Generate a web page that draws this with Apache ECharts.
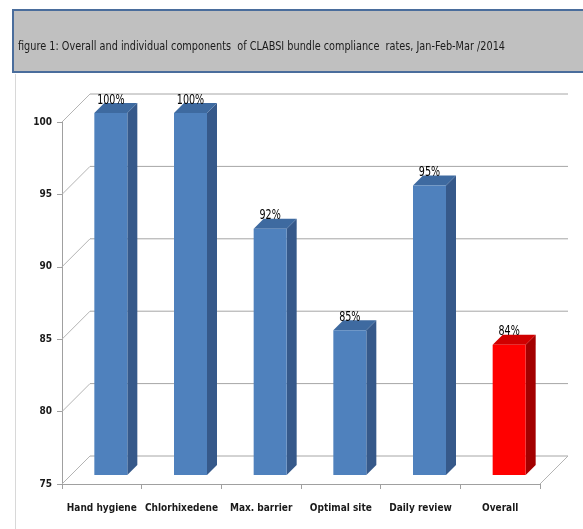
<!DOCTYPE html>
<html>
<head>
<meta charset="utf-8">
<script src="https://cdn.jsdelivr.net/npm/echarts@6/dist/echarts.min.js"></script>
<style>
  html, body { margin: 0; padding: 0; background: #fff; }
  #main { width: 583px; height: 529px; }
</style>
</head>
<body>
<div id="main"></div>
<script>
// data
const categories = ['Hand hygiene', 'Chlorhixedene', 'Max. barrier', 'Optimal site', 'Daily review', 'Overall']
const rates = [100, 100, 92, 85, 95, 84]
const yTicks = [75, 80, 85, 90, 95, 100]
const titleText = 'figure 1: Overall and individual components  of CLABSI bundle compliance  rates, Jan-Feb-Mar /2014'

const FONT = "'Liberation Sans Narrow', 'DejaVu Sans Condensed', 'Liberation Sans', sans-serif"
const DEPTH = 28      // depth of the 3d floor / back wall
const BAR_SHIFT = 9   // bar front plane offset into the depth
const BAR_DEPTH = 10
const BAR_W = 33

const faceColors = (name) => name === 'Overall'
  ? { front: '#ff0000', top: '#d00000', side: '#a30000' }
  : { front: '#4f81bd', top: '#3e6aa0', side: '#36598a' }

const chart = echarts.init(document.getElementById('main'))

let option = {
  backgroundColor: '#fff',
  animation: false,
  grid: { left: 62, right: 43, top: 122, bottom: 45 },
  graphic: [
    {
      type: 'rect',
      shape: { x: 13, y: 10, width: 590, height: 62 },
      style: { fill: '#c0c0c0', stroke: '#4a6d9c', lineWidth: 2 }
    },
    {
      type: 'text',
      x: 18, y: 47,
      scaleX: 0.83,
      style: { text: titleText, font: '13px ' + FONT, fill: '#1a1a1a', textVerticalAlign: 'middle' }
    },
    {
      type: 'line',
      shape: { x1: 15.5, y1: 74, x2: 15.5, y2: 529 },
      style: { stroke: '#d8d8d8', lineWidth: 1 }
    }
  ],
  xAxis: {
    type: 'category',
    data: categories,
    axisLine: { lineStyle: { color: '#a0a0a0' } },
    axisTick: { show: true, length: 5, lineStyle: { color: '#a0a0a0' } },
    axisLabel: { interval: 0, color: '#1a1a1a', fontWeight: 'bold', fontSize: 10, fontFamily: FONT, margin: 19 },
    splitLine: { show: false }
  },
  yAxis: {
    type: 'value',
    min: 75,
    max: 100,
    interval: 5,
    axisLine: { show: true, lineStyle: { color: '#a0a0a0' } },
    axisTick: { show: true, length: 5, lineStyle: { color: '#a0a0a0' } },
    axisLabel: { color: '#1a1a1a', fontWeight: 'bold', fontSize: 10, fontFamily: FONT, margin: 10 },
    splitLine: { show: false }
  },
  series: [
    {
      // floor and back wall, built from the y ticks
      type: 'custom',
      z: 1,
      silent: true,
      data: yTicks.map(v => [0, v]),
      encode: { x: 0, y: 1 },
      renderItem: (params, api) => {
        const cs = params.coordSys
        const y = api.coord([0, api.value(1)])[1]
        const children = [
          {
            type: 'polyline',
            shape: { points: [[cs.x, y], [cs.x + DEPTH, y - DEPTH]] },
            style: { stroke: '#b4b4b4', lineWidth: 1, fill: null }
          },
          {
            type: 'line',
            shape: { x1: cs.x + DEPTH, y1: y - DEPTH, x2: cs.x + cs.width + DEPTH, y2: y - DEPTH },
            style: { stroke: '#a6a6a6', lineWidth: 1 }
          }
        ]
        if (api.value(1) === yTicks[0]) {
          children.push({
            type: 'line',
            shape: { x1: cs.x + cs.width, y1: y, x2: cs.x + cs.width + DEPTH, y2: y - DEPTH },
            style: { stroke: '#b4b4b4', lineWidth: 1 }
          })
        }
        return { type: 'group', children }
      }
    },
    {
      type: 'custom',
      z: 3,
      data: categories.map((c, i) => [i, rates[i]]),
      encode: { x: 0, y: 1 },
      renderItem: (params, api) => {
        const i = api.value(0)
        const v = api.value(1)
        const p = api.coord([i, v])
        const b = api.coord([i, yTicks[0]])
        const col = faceColors(categories[i])
        const xl = p[0] + BAR_SHIFT - BAR_W / 2
        const xr = xl + BAR_W
        const yt = p[1] - BAR_SHIFT
        const yb = b[1] - BAR_SHIFT
        const d = BAR_DEPTH
        return {
          type: 'group',
          children: [
            {
              type: 'polygon',
              shape: { points: [[xr, yt], [xr + d, yt - d], [xr + d, yb - d], [xr, yb]] },
              style: { fill: col.side }
            },
            {
              type: 'polygon',
              shape: { points: [[xl, yt], [xl + d, yt - d], [xr + d, yt - d], [xr, yt]] },
              style: { fill: col.top }
            },
            {
              type: 'rect',
              shape: { x: xl, y: yt, width: BAR_W, height: yb - yt },
              style: { fill: col.front }
            },
            {
              type: 'text',
              x: (xl + xr) / 2,
              y: yt - d + 4,
              scaleX: 0.76,
              style: {
                text: v + '%',
                font: '14px ' + FONT,
                fill: '#000',
                textAlign: 'center',
                textVerticalAlign: 'bottom'
              }
            }
          ]
        }
      }
    }
  ]
}

chart.setOption(option)
window.addEventListener('resize', () => {
  chart.resize()
})
</script>
</body>
</html>
